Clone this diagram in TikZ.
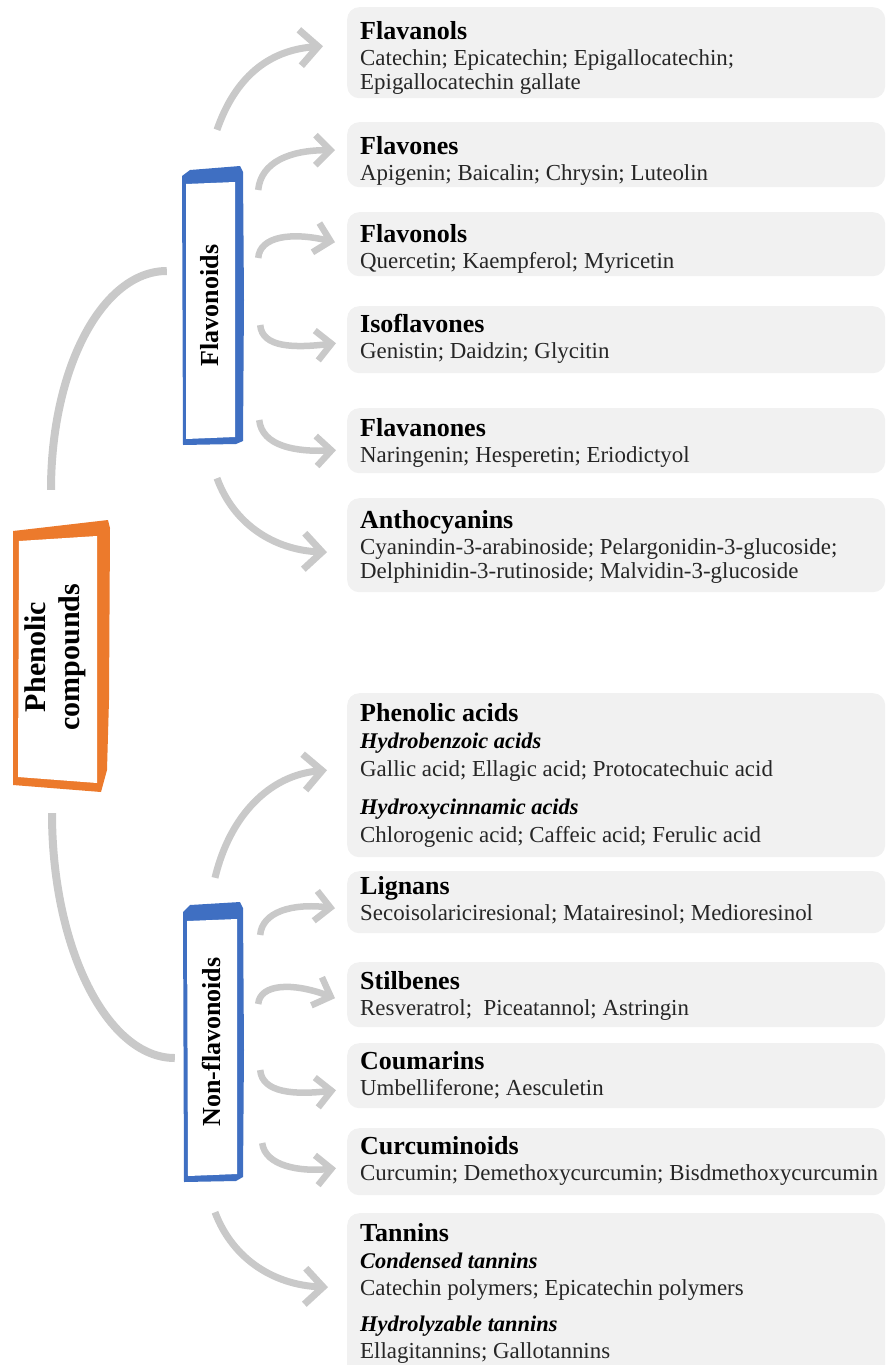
\documentclass[tikz,border=0pt]{standalone}
\usepackage{fontspec}
\setmainfont{Liberation Serif}
\usetikzlibrary{arrows.meta}
\definecolor{boxgray}{HTML}{F1F1F1}
\definecolor{arrgray}{HTML}{C9C9C9}
\definecolor{orng}{HTML}{EC7A2C}
\definecolor{blu}{HTML}{3F6FC2}
\definecolor{txtc}{HTML}{262626}
\newcommand\ttl[1]{{\color{black}\fontsize{26}{24.5}\selectfont\bfseries #1}}
\newcommand\subt[1]{{\color{black}\fontsize{22.4}{24.5}\selectfont\bfseries\itshape #1}}
\newcommand\bodyfnt{\fontsize{22.9}{24.5}\selectfont\color{txtc}}
\newcommand\boxtext[1]{\parbox[t]{600pt}{\leavevmode\bodyfnt #1}}
\begin{document}
\begin{tikzpicture}[x=1pt,y=-1pt,
  catbox/.style={fill=boxgray, draw=none, rounded corners=12pt, inner sep=0pt, anchor=north west, minimum width=538pt},
  txt/.style={inner sep=0pt, anchor=base west},
  holder/.style={inner sep=0pt, draw=none},
  vlabel/.style={rotate=90, inner sep=0pt, align=center, font=\fontsize{26}{30}\selectfont\bfseries},
  conn/.style={draw=arrgray, line width=8pt},
  branch/.style={draw=arrgray, line width=6.5pt, -{Straight Barb[length=15pt,width=30pt]}},
  bigbranch/.style={draw=arrgray, line width=7pt, -{Straight Barb[length=18pt,width=36pt]}}
]
\useasboundingbox (0,0) rectangle (887,1365);

% ---------- category boxes ----------
\node[catbox, minimum height=91pt]  (b1)  at (347,7)    {};
\node[catbox, minimum height=65pt]  (b2)  at (347,122)  {};
\node[catbox, minimum height=64pt]  (b3)  at (347,212)  {};
\node[catbox, minimum height=67pt]  (b4)  at (347,306)  {};
\node[catbox, minimum height=65pt]  (b5)  at (347,408)  {};
\node[catbox, minimum height=94pt]  (b6)  at (347,498)  {};
\node[catbox, minimum height=164pt] (b7)  at (347,693)  {};
\node[catbox, minimum height=62pt]  (b8)  at (347,871)  {};
\node[catbox, minimum height=65pt]  (b9)  at (347,962)  {};
\node[catbox, minimum height=65pt]  (b10) at (347,1043) {};
\node[catbox, minimum height=67pt]  (b11) at (347,1128) {};
\node[catbox, minimum height=177pt] (b12) at (347,1213) {};

\node[txt] (t1) at ([shift={(13,32)}]b1.north west) {\boxtext{\ttl{Flavanols}\\[1.5pt]
  Catechin; Epicatechin; Epigallocatechin;\\ Epigallocatechin gallate}};
\node[txt] (t2) at ([shift={(13,32)}]b2.north west) {\boxtext{\ttl{Flavones}\\[1.5pt]
  Apigenin; Baicalin; Chrysin; Luteolin}};
\node[txt] (t3) at ([shift={(13,30)}]b3.north west) {\boxtext{\ttl{Flavonols}\\[1.5pt]
  Quercetin; Kaempferol; Myricetin}};
\node[txt] (t4) at ([shift={(13,26)}]b4.north west) {\boxtext{\ttl{Isoflavones}\\[1.5pt]
  Genistin; Daidzin; Glycitin}};
\node[txt] (t5) at ([shift={(13,28)}]b5.north west) {\boxtext{\ttl{Flavanones}\\[1.5pt]
  Naringenin; Hesperetin; Eriodictyol}};
\node[txt] (t6) at ([shift={(13,30)}]b6.north west) {\boxtext{\ttl{Anthocyanins}\\[1.5pt]
  Cyanindin-3-arabinoside; Pelargonidin-3-glucoside;\\ Delphinidin-3-rutinoside; Malvidin-3-glucoside}};
\node[txt] (t7) at ([shift={(13,28)}]b7.north west) {\boxtext{\ttl{Phenolic acids}\\[2.5pt]
  \subt{Hydrobenzoic acids}\\[3.5pt]
  Gallic acid; Ellagic acid; Protocatechuic acid\\[13.5pt]
  \subt{Hydroxycinnamic acids}\\[3.5pt]
  Chlorogenic acid; Caffeic acid; Ferulic acid}};
\node[txt] (t8) at ([shift={(13,23)}]b8.north west) {\boxtext{\ttl{Lignans}\\[1.5pt]
  Secoisolariciresional; Matairesinol; Medioresinol}};
\node[txt] (t9) at ([shift={(13,27)}]b9.north west) {\boxtext{\ttl{Stilbenes}\\[1.5pt]
  Resveratrol;~ Piceatannol; Astringin}};
\node[txt] (t10) at ([shift={(13,26)}]b10.north west) {\boxtext{\ttl{Coumarins}\\[1.5pt]
  Umbelliferone; Aesculetin}};
\node[txt] (t11) at ([shift={(13,26)}]b11.north west) {\boxtext{\ttl{Curcuminoids}\\[1.5pt]
  Curcumin; Demethoxycurcumin; Bisdmethoxycurcumin}};
\node[txt] (t12) at ([shift={(13,28)}]b12.north west) {\boxtext{\ttl{Tannins}\\[2.5pt]
  \subt{Condensed tannins}\\[2.5pt]
  Catechin polymers; Epicatechin polymers\\[11.5pt]
  \subt{Hydrolyzable tannins}\\[2.5pt]
  Ellagitannins; Gallotannins}};

% ---------- root box (orange) ----------
\fill[orng] (13,531) -- (108,520) -- (110,528) -- (109,700) -- (107,770) -- (101,792) -- (13,785) -- cycle;
\fill[white] (19,541) -- (97,536) -- (97,783) -- (18,777) -- cycle;
\node[holder, minimum width=96pt, minimum height=266pt] (P) at (57,657) {};
\node[vlabel, font=\fontsize{30}{34}\selectfont\bfseries] (Pt) at ([xshift=-2]P.center) {Phenolic\\compounds};

% ---------- Flavonoids (blue) ----------
\fill[blu] (182,176) -- (190,170) -- (240,166) -- (243,172) -- (244,300) -- (243,441) -- (236,444) -- (183,445) -- cycle;
\fill[white] (186,184) -- (235,182) -- (235,437) -- (186,439) -- cycle;
\node[holder, minimum width=61pt, minimum height=279pt] (F) at (212.5,305.5) {};
\node[vlabel] (Ft) at ([xshift=-3]F.center) {Flavonoids};

% ---------- Non-flavonoids (blue) ----------
\fill[blu] (183,912) -- (190,905) -- (240,902) -- (243,908) -- (244,1050) -- (243,1177) -- (236,1181) -- (184,1182) -- cycle;
\fill[white] (187,921) -- (237,919) -- (237,1174) -- (188,1176) -- cycle;
\node[holder, minimum width=61pt, minimum height=280pt] (N) at (213,1042) {};
\node[vlabel] (Nt) at ([xshift=-2]N.center) {Non-flavonoids};

% ---------- main connectors ----------
\draw[conn] ([shift={(-6,-34)}]P.north) .. controls (51,369) and (102,271) .. ([shift={(-15,-34.5)}]F.west);
\draw[conn] ([shift={(-5,23)}]P.south) .. controls (52,948) and (107,1058) .. ([shift={(-7.5,16)}]N.west);

% ---------- branches from Flavonoids ----------
\draw[bigbranch] ([shift={(4.5,-36)}]F.north) .. controls (235,78) and (268,50) .. ([shift={(-24,-6.5)}]b1.west);
\draw[branch] ([shift={(15,-115.5)}]F.east) .. controls (261,162) and (290,150) .. ([shift={(-12,-4.5)}]b2.west);
\draw[branch] ([shift={(15,-47.5)}]F.east) .. controls (260,236) and (292,232) .. ([shift={(-12,-2)}]b3.west);
\draw[branch] ([shift={(17,19.5)}]F.east) .. controls (262,348) and (295,348) .. ([shift={(-11,3.5)}]b4.west);
\draw[branch] ([shift={(16,114.5)}]F.east) .. controls (262,446) and (295,452) .. ([shift={(-11,9.5)}]b5.west);
\draw[bigbranch] ([shift={(4.5,33)}]F.south) .. controls (234,525) and (275,550) .. ([shift={(-20,7)}]b6.west);

% ---------- branches from Non-flavonoids ----------
\draw[bigbranch] ([shift={(2,-24)}]N.north) .. controls (230,815) and (270,775) .. ([shift={(-20,-5)}]b7.west);
\draw[branch] ([shift={(16.5,-107)}]N.east) .. controls (262,912) and (292,903) .. ([shift={(-12,6)}]b8.west);
\draw[branch] ([shift={(14.5,-38)}]N.east) .. controls (260,984) and (292,982) .. ([shift={(-12,3.5)}]b9.west);
\draw[branch] ([shift={(16.5,28)}]N.east) .. controls (262,1093) and (295,1095) .. ([shift={(-11,14.5)}]b10.west);
\draw[branch] ([shift={(18.5,101)}]N.east) .. controls (265,1166) and (300,1172) .. ([shift={(-11,6.5)}]b11.west);
\draw[bigbranch] ([shift={(2,30)}]N.south) .. controls (233,1260) and (275,1285) .. ([shift={(-19,-14.5)}]b12.west);
\end{tikzpicture}
\end{document}
